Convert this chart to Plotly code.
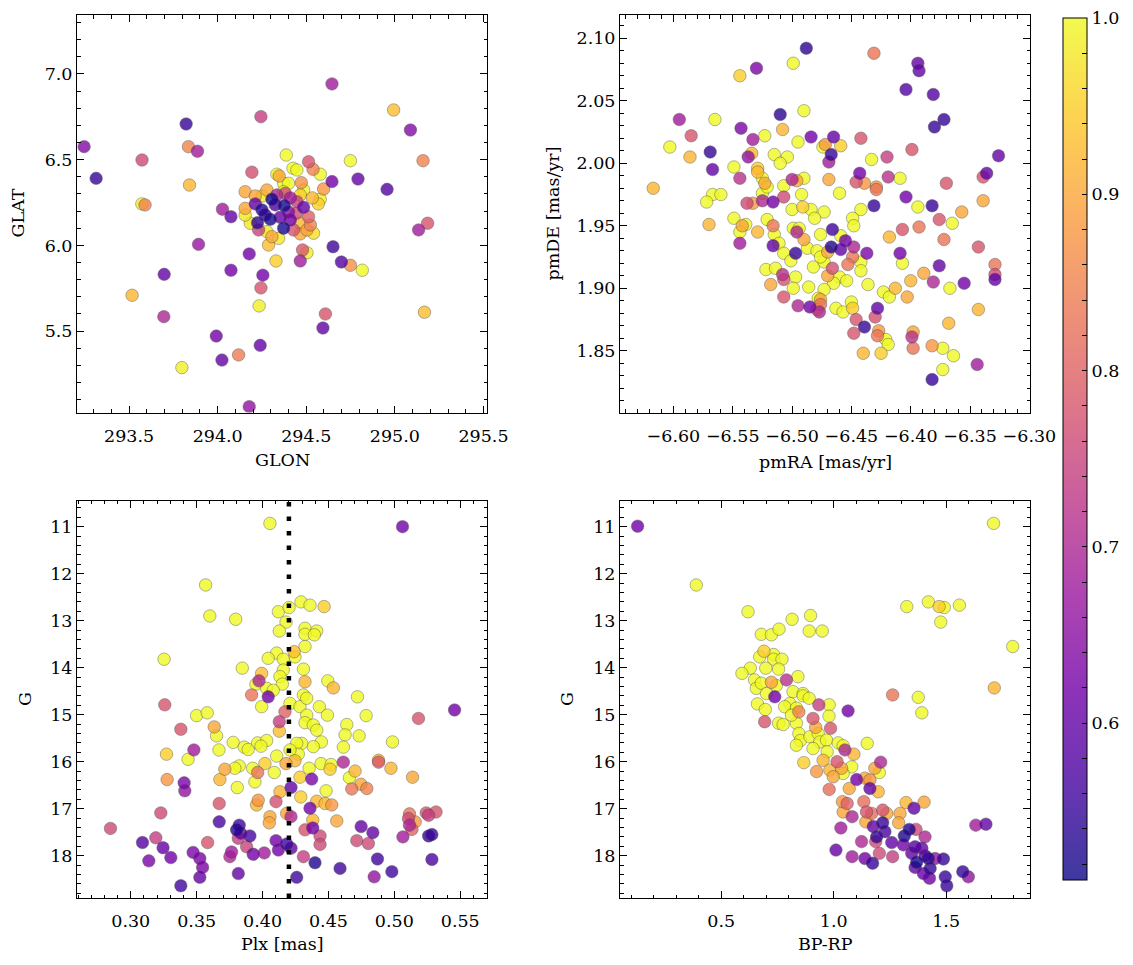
import numpy as np
import plotly.graph_objects as go
import plotly.colors as pc

# ---------------- data ----------------
tl_glon = [294.645, 294.993, 295.088, 294.244, 293.822, 293.246, 293.835, 293.886, 293.573, 293.314,
           293.841, 294.193, 294.749, 294.792, 294.956, 295.159, 294.645, 294.598, 294.579, 293.572,
           293.590, 294.027, 294.075, 294.178, 294.075, 294.255, 294.244, 294.234, 293.892, 293.698,
           293.517, 293.696, 293.992, 294.024, 294.118, 294.240, 293.798, 294.178, 294.608, 294.594,
           294.479, 294.504, 294.466, 294.651, 294.698, 294.749, 294.816, 295.134, 295.185, 295.167,
           294.287, 294.329,
           294.387, 294.513, 294.538, 294.425, 294.447, 294.579, 294.334, 294.347, 294.472, 294.485,
           294.155, 294.372, 294.400, 294.372, 294.278, 294.306, 294.376, 294.250, 294.297, 294.372,
           294.353, 294.410, 294.225, 294.212, 294.334, 294.381, 294.447, 294.485, 294.513, 294.444,
           294.428, 294.466, 294.504, 294.541, 294.278, 294.306, 294.344, 294.184, 294.155, 294.231,
           294.466, 294.251, 294.212, 294.410, 294.466, 294.534, 294.325, 294.268, 294.400, 294.155,
           294.523, 294.568]
tl_glat = [6.942, 6.790, 6.673, 6.751, 6.708, 6.576, 6.576, 6.549, 6.498, 6.391,
           6.352, 6.427, 6.494, 6.387, 6.327, 6.494, 6.372, 6.329, 6.269, 6.242,
           6.236, 6.211, 6.167, 5.950, 5.855, 5.826, 5.752, 5.647, 6.006, 5.831,
           5.709, 5.584, 5.471, 5.331, 5.361, 5.417, 5.287, 5.059, 5.600, 5.518,
           5.973, 5.957, 5.909, 5.992, 5.903, 5.884, 5.855, 6.090, 6.129, 5.610,
           6.002, 5.909,
           6.527, 6.488, 6.444, 6.450, 6.440, 6.415, 6.415, 6.405, 6.366, 6.323,
           6.313, 6.362, 6.362, 6.313, 6.323, 6.269, 6.232, 6.207, 6.152, 6.100,
           6.164, 6.148, 6.132, 6.242, 6.294, 6.304, 6.255, 6.222, 6.167, 6.187,
           6.090, 6.067, 6.090, 6.071, 6.080, 6.051, 6.041, 6.129, 6.216, 6.090,
           6.129, 6.288, 6.288, 6.277, 6.294, 6.277, 6.236, 6.177, 6.195, 6.177,
           6.119, 6.242]
tl_prob = [0.68, 0.93, 0.64, 0.74, 0.55, 0.64, 0.85, 0.68, 0.76, 0.55,
           0.92, 0.77, 1.00, 0.60, 0.58, 0.85, 0.62, 0.88, 0.99, 0.99,
           0.85, 0.68, 0.60, 0.62, 0.62, 0.62, 0.78, 0.99, 0.67, 0.60,
           0.92, 0.70, 0.62, 0.60, 0.84, 0.60, 0.99, 0.66, 0.78, 0.60,
           0.78, 0.99, 0.68, 0.56, 0.58, 0.87, 1.00, 0.68, 0.78, 0.93,
           0.93, 0.95,
           1.00, 0.78, 0.85, 1.00, 1.00, 1.00, 1.00, 0.90, 0.87, 1.00,
           0.90, 1.00, 1.00, 1.00, 0.90, 0.52, 0.52, 0.53, 0.52, 0.52,
           0.60, 0.62, 0.54, 0.60, 0.70, 0.76, 0.74, 0.60, 0.80, 0.76,
           0.78, 0.90, 0.90, 0.97, 0.98, 0.90, 0.98, 0.98, 0.90, 0.75,
           0.92, 0.98, 0.90, 0.68, 0.95, 0.92, 0.58, 0.56, 0.65, 0.98,
           0.85, 0.95]

tr_pmra = [-6.488, -6.431, -6.394, -6.393, -6.499, -6.530, -6.544, -6.404, -6.381, -6.372,
           -6.380, -6.595, -6.565, -6.585, -6.603, -6.586, -6.617, -6.510, -6.490, -6.508,
           -6.543, -6.533, -6.523, -6.569, -6.567, -6.495, -6.484, -6.465, -6.472, -6.474,
           -6.459, -6.467, -6.469, -6.442, -6.399, -6.420, -6.433, -6.326, -6.534, -6.537,
           -6.515, -6.504, -6.510, -6.549, -6.529, -6.529, -6.525, -6.523, -6.544, -6.490,
           -6.500, -6.496, -6.507, -6.469, -6.443, -6.446, -6.439, -6.429, -6.429, -6.419,
           -6.409, -6.370, -6.339, -6.336, -6.339, -6.382, -6.404, -6.394, -6.431, -6.460,
           -6.492, -6.525, -6.521, -6.567, -6.560, -6.572, -6.538, -6.525, -6.516, -6.507,
           -6.533, -6.491, -6.500, -6.473, -6.442, -6.357,
           -6.570, -6.549, -6.542, -6.539, -6.544, -6.529, -6.544, -6.521, -6.516, -6.515,
           -6.511, -6.516, -6.484, -6.481, -6.499, -6.494, -6.496, -6.490, -6.487, -6.497,
           -6.507, -6.501, -6.476, -6.466, -6.459, -6.455, -6.467, -6.459, -6.448, -6.437,
           -6.470, -6.479, -6.449, -6.448, -6.449, -6.453, -6.442, -6.442, -6.466, -6.470,
           -6.460, -6.454, -6.465, -6.482, -6.473, -6.476, -6.522, -6.514, -6.508, -6.507,
           -6.497, -6.499, -6.518, -6.486, -6.473, -6.507, -6.495, -6.485, -6.478, -6.476,
           -6.476, -6.477, -6.479, -6.463, -6.457, -6.450, -6.449, -6.436, -6.428, -6.430,
           -6.446, -6.439, -6.448, -6.427, -6.428, -6.421, -6.419, -6.440, -6.425, -6.423,
           -6.418, -6.413, -6.418, -6.407, -6.393, -6.409, -6.407, -6.400, -6.403, -6.389,
           -6.376, -6.372, -6.365, -6.376, -6.381, -6.367, -6.355, -6.343, -6.329, -6.329,
           -6.329, -6.343, -6.368, -6.398, -6.399, -6.398, -6.382, -6.373, -6.364, -6.373,
           -6.382, -6.344]
tr_pmde = [2.092, 2.088, 2.080, 2.074, 2.080, 2.076, 2.070, 2.059, 2.055, 2.035,
           2.029, 2.035, 2.035, 2.022, 2.013, 2.005, 1.980, 2.039, 2.042, 2.027,
           2.028, 2.019, 2.022, 2.009, 1.995, 2.017, 2.021, 2.021, 2.015, 2.013,
           2.014, 2.007, 2.001, 2.020, 2.011, 2.005, 2.003, 2.006, 2.008, 2.005,
           2.007, 2.005, 2.000, 1.997, 1.996, 1.993, 1.988, 1.984, 1.988, 1.988,
           1.987, 1.986, 1.982, 1.987, 1.992, 1.985, 1.984, 1.981, 1.979, 1.989,
           1.988, 1.984, 1.989, 1.992, 1.970, 1.966, 1.973, 1.965, 1.966, 1.976,
           1.975, 1.976, 1.981, 1.975, 1.975, 1.969, 1.968, 1.970, 1.969, 1.973,
           1.968, 1.965, 1.963, 1.961, 1.963, 1.961,
           1.951, 1.956, 1.950, 1.951, 1.945, 1.945, 1.936, 1.955, 1.950, 1.943,
           1.936, 1.934, 1.963, 1.956, 1.948, 1.948, 1.945, 1.939, 1.932, 1.928,
           1.928, 1.922, 1.943, 1.947, 1.942, 1.938, 1.933, 1.931, 1.933, 1.928,
           1.929, 1.930, 1.956, 1.950, 1.925, 1.919, 1.921, 1.914, 1.916, 1.910,
           1.909, 1.906, 1.904, 1.917, 1.921, 1.925, 1.915, 1.916, 1.911, 1.907,
           1.909, 1.900, 1.903, 1.901, 1.899, 1.893, 1.886, 1.885, 1.892, 1.891,
           1.887, 1.881, 1.883, 1.884, 1.881, 1.889, 1.884, 1.903, 1.884, 1.877,
           1.875, 1.869, 1.864, 1.866, 1.862, 1.859, 1.855, 1.848, 1.848, 1.897,
           1.893, 1.900, 1.941, 1.947, 1.949, 1.928, 1.920, 1.906, 1.893, 1.912,
           1.955, 1.939, 1.952, 1.918, 1.905, 1.900, 1.904, 1.933, 1.919, 1.911,
           1.907, 1.883, 1.872, 1.865, 1.861, 1.852, 1.854, 1.852, 1.846, 1.835,
           1.827, 1.839]
tr_prob = [0.54, 0.83, 0.60, 0.60, 1.00, 0.63, 0.95, 0.58, 0.58, 0.55,
           0.55, 0.68, 1.00, 0.78, 1.00, 0.92, 0.92, 0.54, 1.00, 0.92,
           0.63, 0.68, 1.00, 0.55, 0.60, 1.00, 0.62, 0.60, 0.88, 1.00,
           0.95, 0.55, 0.68, 0.78, 0.78, 0.74, 1.00, 0.60, 0.92, 0.66,
           1.00, 1.00, 1.00, 1.00, 0.95, 0.92, 1.00, 0.90, 0.72, 1.00,
           0.70, 0.90, 1.00, 0.90, 0.62, 0.78, 0.88, 0.88, 0.83, 0.72,
           1.00, 0.78, 0.78, 0.60, 0.90, 0.55, 0.62, 1.00, 0.55, 1.00,
           1.00, 1.00, 1.00, 1.00, 1.00, 1.00, 0.76, 0.70, 0.62, 0.76,
           0.88, 0.95, 1.00, 1.00, 1.00, 0.90,
           0.92, 1.00, 0.90, 1.00, 1.00, 0.92, 0.68, 1.00, 0.83, 1.00,
           1.00, 0.60, 1.00, 1.00, 1.00, 1.00, 0.70, 0.90, 1.00, 0.55,
           1.00, 1.00, 1.00, 0.56, 1.00, 0.62, 0.53, 0.60, 0.70, 0.63,
           0.90, 1.00, 1.00, 1.00, 0.83, 0.83, 1.00, 1.00, 0.77, 0.90,
           1.00, 1.00, 1.00, 1.00, 1.00, 1.00, 1.00, 1.00, 0.72, 0.78,
           1.00, 1.00, 0.90, 1.00, 1.00, 0.78, 0.70, 0.62, 1.00, 0.90,
           0.83, 0.70, 0.90, 1.00, 1.00, 1.00, 0.95, 1.00, 0.60, 0.77,
           0.78, 0.55, 0.78, 0.88, 0.83, 1.00, 1.00, 0.92, 0.95, 1.00,
           1.00, 0.92, 0.92, 0.78, 0.83, 0.62, 1.00, 0.92, 0.90, 0.90,
           0.78, 0.83, 1.00, 0.60, 0.70, 1.00, 0.62, 0.78, 0.83, 0.76,
           0.60, 0.92, 0.92, 0.90, 0.72, 0.83, 0.88, 1.00, 1.00, 1.00,
           0.55, 0.68]

bl_plx = [0.4056, 0.5062, 0.3568, 0.3600, 0.3796, 0.3253, 0.4292, 0.4360, 0.4467, 0.4120,
          0.4201, 0.4178, 0.4127, 0.4322, 0.4322, 0.4411, 0.4393, 0.4322, 0.4239, 0.4246,
          0.4107, 0.4043, 0.4157, 0.3846, 0.4310, 0.3993, 0.4157, 0.4132, 0.4150, 0.3973,
          0.3950, 0.4322, 0.4495, 0.4537, 0.3917, 0.4043, 0.4031, 0.4081, 0.4720, 0.4310,
          0.3258, 0.3993, 0.4208, 0.4284, 0.4335, 0.4431, 0.4492, 0.4786, 0.5183, 0.5457,
          0.3499, 0.3580, 0.3380, 0.3633, 0.3651, 0.4170, 0.4127, 0.4127, 0.4335, 0.4322,
          0.4385, 0.4411, 0.4639, 0.4626, 0.4733, 0.4986, 0.4446, 0.4385, 0.4297, 0.4259,
          0.4271, 0.3777, 0.3861, 0.3891, 0.3963, 0.4031, 0.3988, 0.4107, 0.4208, 0.4613,
          0.3271, 0.3479, 0.3435, 0.3669, 0.4246, 0.4178, 0.4018, 0.3823, 0.3790, 0.3714,
          0.3925, 0.3963, 0.4089, 0.4353, 0.4444, 0.4520, 0.4512, 0.4613, 0.4702, 0.4659,
          0.4880, 0.4880, 0.4974, 0.5138, 0.3276, 0.3405, 0.3410, 0.3676, 0.3808, 0.3942,
          0.4373, 0.4284, 0.4290, 0.4216, 0.4482, 0.4677, 0.4746, 0.4791, 0.4132, 0.4102,
          0.3967, 0.3955, 0.3671, 0.3228, 0.2846, 0.4360, 0.4411, 0.4474, 0.4525, 0.4563,
          0.4183, 0.4216, 0.4056, 0.4051, 0.4381, 0.4322, 0.4381, 0.4436, 0.4436, 0.3671,
          0.3823, 0.3803, 0.3834, 0.3904, 0.3816, 0.3879, 0.4102, 0.4183, 0.4216, 0.4120,
          0.4013, 0.3929, 0.3765, 0.3752, 0.3583, 0.3473, 0.3524, 0.3545, 0.3524, 0.3190,
          0.3089, 0.3245, 0.3304, 0.3137, 0.3380, 0.3816, 0.4259, 0.4398, 0.4310, 0.4588,
          0.4715, 0.4748, 0.4803, 0.4837, 0.4872, 0.4847, 0.4981, 0.5065, 0.5115, 0.5107,
          0.5158, 0.5115, 0.5133, 0.5242, 0.5316, 0.5260, 0.5260, 0.5285, 0.5285]
bl_g = [10.93, 11.00, 12.24, 12.90, 12.97, 13.82, 12.60, 12.67, 12.70, 12.81,
        12.72, 13.03, 13.22, 13.16, 13.29, 13.22, 13.30, 13.55, 13.66, 13.77,
        13.69, 13.80, 13.82, 14.01, 14.03, 14.12, 14.05, 14.19, 14.35, 14.28,
        14.35, 14.30, 14.28, 14.43, 14.58, 14.62, 14.44, 14.48, 14.62, 14.58,
        14.79, 14.83, 14.76, 14.83, 14.65, 14.83, 15.01, 15.02, 15.08, 14.90,
        15.02, 14.96, 15.31, 15.26, 15.45, 14.94, 15.15, 15.35, 15.01, 15.17,
        15.22, 15.33, 15.21, 15.43, 15.45, 15.58, 15.58, 15.68, 15.61, 15.61,
        15.84, 15.59, 15.69, 15.74, 15.60, 15.55, 15.67, 15.88, 15.75, 15.69,
        15.84, 15.75, 15.95, 15.75, 15.98, 16.04, 16.04, 16.09, 16.14, 16.16,
        16.14, 16.23, 16.23, 16.14, 16.04, 16.06, 16.16, 16.01, 16.20, 16.34,
        15.97, 16.01, 16.14, 16.33, 16.38, 16.45, 16.62, 16.38, 16.55, 16.43,
        16.37, 16.33, 16.75, 16.55, 16.62, 16.58, 16.48, 16.57, 16.64, 16.85,
        16.82, 16.92, 16.89, 17.09, 17.42, 16.99, 16.84, 16.89, 16.92, 17.26,
        17.10, 17.17, 17.17, 17.30, 17.24, 17.45, 17.41, 17.58, 17.76, 17.28,
        17.35, 17.45, 17.52, 17.58, 17.63, 17.81, 17.68, 17.75, 17.84, 17.88,
        17.94, 17.97, 17.92, 18.02, 17.72, 17.93, 18.06, 18.25, 18.46, 17.62,
        17.72, 17.83, 18.04, 18.11, 18.64, 18.38, 18.46, 18.15, 18.02, 18.27,
        17.68, 17.38, 17.74, 17.51, 18.07, 18.45, 18.34, 17.60, 17.11, 17.21,
        17.28, 17.35, 17.44, 17.09, 17.07, 17.14, 17.58, 17.55, 18.08]
bl_prob = [1.00, 0.62, 1.00, 1.00, 1.00, 1.00, 1.00, 1.00, 0.95, 1.00,
           1.00, 1.00, 1.00, 1.00, 1.00, 1.00, 1.00, 1.00, 0.93, 1.00,
           1.00, 1.00, 1.00, 1.00, 1.00, 0.93, 1.00, 1.00, 1.00, 0.70,
           1.00, 0.92, 1.00, 0.92, 0.83, 0.62, 1.00, 1.00, 1.00, 1.00,
           0.78, 1.00, 1.00, 1.00, 1.00, 1.00, 1.00, 1.00, 0.78, 0.62,
           1.00, 1.00, 0.78, 0.90, 1.00, 0.80, 0.74, 0.93, 1.00, 1.00,
           1.00, 1.00, 1.00, 1.00, 1.00, 1.00, 1.00, 1.00, 1.00, 1.00,
           1.00, 1.00, 1.00, 1.00, 1.00, 1.00, 1.00, 1.00, 1.00, 1.00,
           0.95, 0.68, 1.00, 1.00, 0.92, 0.90, 0.95, 1.00, 1.00, 0.90,
           1.00, 0.83, 1.00, 1.00, 1.00, 1.00, 0.95, 0.70, 0.92, 1.00,
           0.93, 0.78, 0.92, 0.90, 0.88, 0.63, 0.66, 0.92, 1.00, 1.00,
           0.63, 0.95, 0.95, 0.60, 1.00, 0.83, 0.90, 0.85, 0.92, 0.77,
           0.88, 0.92, 0.78, 0.76, 0.76, 0.62, 0.92, 0.92, 0.88, 0.90,
           0.90, 0.70, 0.90, 0.90, 0.92, 0.78, 0.62, 0.76, 0.76, 0.57,
           0.56, 0.53, 0.60, 0.57, 0.74, 0.75, 0.62, 0.56, 0.60, 0.62,
           0.68, 0.62, 0.68, 0.70, 0.78, 0.63, 0.63, 0.63, 0.60, 0.74,
           0.58, 0.60, 0.62, 0.63, 0.56, 0.60, 0.56, 0.53, 0.74, 0.56,
           0.76, 0.60, 0.76, 0.60, 0.56, 0.66, 0.56, 0.68, 0.83, 0.76,
           0.88, 0.70, 0.80, 0.78, 0.78, 0.74, 0.55, 0.55, 0.57]

br_bprp = [0.128, 1.711, 0.389, 0.619, 0.815, 0.897, 0.678, 0.723, 0.757, 0.891,
           0.949, 1.325, 1.421, 1.469, 1.492, 1.559, 1.476, 1.796, 1.714, 0.690,
           0.671, 0.733, 0.733, 0.770, 0.629, 0.592, 0.698, 0.755, 0.648, 0.656,
           0.678, 0.723, 0.790, 0.841, 0.745, 0.819, 0.864, 0.738, 1.262, 1.376,
           1.392, 0.701, 0.661, 0.696, 0.693, 0.755, 0.775, 0.805, 0.782, 0.834,
           0.864, 0.891, 0.845, 0.934, 0.980, 0.979, 1.064, 0.834, 0.812, 0.908,
           0.920, 0.986, 0.845, 0.852, 0.834, 0.894, 0.931, 0.938, 0.968, 0.908,
           0.971, 1.020, 1.042, 1.050, 1.090, 1.149, 0.867, 0.924, 0.953, 1.015,
           1.035, 0.983, 1.080, 1.042, 1.209, 1.183, 1.203, 0.998, 0.980, 1.102,
           1.139, 1.161, 1.069, 1.161, 1.198, 1.039, 1.060, 1.134, 1.042, 1.082,
           1.146, 1.169, 1.218, 1.236, 1.143, 1.176, 1.218, 1.191, 1.228, 1.295,
           1.322, 1.402, 1.289, 1.357, 1.032, 1.124, 1.187, 1.258, 1.314, 1.336,
           1.366, 1.406, 1.362, 1.392, 1.310, 1.010, 1.082, 1.139, 1.173, 1.203,
           1.262, 1.347, 1.369, 1.421, 1.429, 1.362, 1.399, 1.426, 1.451, 1.488,
           1.496, 1.503, 1.574, 1.599, 1.632, 1.677, 1.406]
br_g = [10.99, 10.93, 12.24, 12.81, 12.97, 12.89, 13.29, 13.30, 13.18, 13.22,
        13.22, 12.70, 12.60, 12.70, 12.72, 12.67, 13.03, 13.55, 14.43, 13.65,
        13.77, 13.72, 13.82, 13.82, 14.01, 14.12, 14.01, 14.03, 14.26, 14.44,
        14.33, 14.31, 14.26, 14.19, 14.38, 14.51, 14.55, 14.62, 14.58, 14.63,
        14.96, 14.55, 14.77, 14.89, 15.15, 15.18, 15.21, 14.76, 14.83, 14.86,
        14.60, 14.65, 14.94, 14.79, 14.79, 15.03, 14.92, 15.18, 15.01, 15.08,
        15.27, 15.29, 15.40, 15.55, 15.65, 15.47, 15.40, 15.58, 15.54, 15.72,
        15.79, 15.60, 15.66, 15.75, 15.84, 15.61, 16.02, 16.21, 15.97, 16.00,
        16.14, 16.18, 16.11, 16.25, 16.01, 16.14, 16.23, 16.32, 16.59, 16.38,
        16.35, 16.39, 16.57, 16.57, 16.64, 16.85, 16.89, 16.85, 17.07, 17.17,
        17.07, 17.10, 17.03, 17.10, 17.28, 17.38, 17.30, 17.60, 17.49, 17.10,
        16.87, 16.86, 17.30, 16.99, 17.41, 17.70, 17.70, 17.72, 17.58, 17.44,
        17.44, 17.60, 17.81, 17.84, 17.77, 17.88, 18.02, 18.06, 18.16, 17.95,
        18.02, 17.95, 18.14, 18.06, 18.27, 18.25, 18.38, 18.48, 18.06, 18.07,
        18.45, 18.64, 18.34, 18.45, 17.35, 17.33, 18.00]
br_prob = [0.62, 1.00, 1.00, 1.00, 1.00, 1.00, 1.00, 1.00, 1.00, 1.00,
           1.00, 1.00, 1.00, 0.95, 1.00, 1.00, 1.00, 1.00, 0.92, 0.95,
           1.00, 1.00, 1.00, 1.00, 1.00, 1.00, 1.00, 1.00, 1.00, 1.00,
           1.00, 0.90, 0.72, 1.00, 1.00, 1.00, 1.00, 0.62, 0.83, 1.00,
           1.00, 1.00, 1.00, 1.00, 0.78, 1.00, 1.00, 1.00, 1.00, 1.00,
           1.00, 1.00, 0.85, 0.74, 1.00, 1.00, 0.62, 1.00, 1.00, 0.78,
           0.90, 0.78, 1.00, 1.00, 1.00, 1.00, 1.00, 1.00, 1.00, 1.00,
           1.00, 1.00, 1.00, 0.70, 0.92, 1.00, 0.95, 0.88, 0.92, 0.78,
           0.90, 0.92, 1.00, 1.00, 0.70, 0.90, 1.00, 0.90, 0.82, 0.62,
           0.90, 0.88, 0.90, 0.60, 0.92, 0.88, 0.80, 0.82, 0.90, 0.70,
           0.78, 0.82, 0.78, 0.90, 0.90, 0.60, 0.55, 0.55, 0.57, 0.90,
           0.92, 0.90, 0.90, 0.60, 0.68, 0.70, 0.76, 0.60, 0.53, 0.53,
           0.76, 0.70, 0.58, 0.60, 0.62, 0.60, 0.68, 0.62, 0.55, 0.76,
           0.74, 0.60, 0.52, 0.54, 0.55, 0.60, 0.60, 0.62, 0.66, 0.55,
           0.55, 0.55, 0.55, 0.66, 0.68, 0.60, 0.60]

plx_ref = 0.42
prob_min, prob_max = 0.511, 1.0

# ---------------- styling ----------------
FONT = "DejaVu Serif"
FS = 17.5
plasma = pc.sequential.Plasma
cscale = [[i / (len(plasma) - 1), c] for i, c in enumerate(plasma)]


def blend(hexc, a=0.8):
    r, g, b = pc.hex_to_rgb(hexc)
    return "rgb(%d,%d,%d)" % (r * a + 255 * (1 - a), g * a + 255 * (1 - a), b * a + 255 * (1 - a))


cscale_bar = [[i / (len(plasma) - 1), blend(c)] for i, c in enumerate(plasma)]

# page offset of the figure (default body margin) and figure size
OFF = 8
W, H = 1125, 957


def fx(px):
    return (px - OFF) / W


def fy(py):
    return 1 - (py - OFF) / H


xl = [fx(77), fx(487)]
xr = [fx(620), fx(1030)]
yt = [fy(412.5), fy(15)]
yb = [fy(898), fy(500.5)]

fig = go.Figure()


def add_panel(x, y, p, xa, ya):
    x = np.asarray(x); y = np.asarray(y); p = np.asarray(p)
    n = min(len(x), len(y), len(p))
    x, y, p = x[:n], y[:n], p[:n]
    order = np.argsort(-p, kind="stable")
    fig.add_trace(go.Scatter(
        x=x[order], y=y[order], mode="markers", xaxis=xa, yaxis=ya,
        marker=dict(size=12.5, color=p[order], colorscale=cscale, cmin=prob_min, cmax=prob_max,
                    opacity=0.8, line=dict(width=0.6, color="rgba(60,60,60,0.8)")),
        showlegend=False, hoverinfo="skip"))


add_panel(tl_glon, tl_glat, tl_prob, "x", "y")
add_panel(tr_pmra, tr_pmde, tr_prob, "x2", "y2")
add_panel(bl_plx, bl_g, bl_prob, "x3", "y3")
add_panel(br_bprp, br_g, br_prob, "x4", "y4")

cb_vals = [round(0.52 + 0.02 * i, 2) for i in range(25)]
cb_text = [("%.1f" % v if abs(v * 10 - round(v * 10)) < 1e-6 else "") for v in cb_vals]

# colorbar carrier
fig.add_trace(go.Scatter(
    x=[None], y=[None], mode="markers", xaxis="x4", yaxis="y4",
    marker=dict(color=[prob_min], colorscale=cscale_bar, cmin=prob_min, cmax=prob_max, showscale=True,
                colorbar=dict(x=fx(1063), xanchor="left", y=fy(18), yanchor="top",
                              xpad=0, ypad=0,
                              len=862, lenmode="pixels", thickness=24, thicknessmode="pixels",
                              outlinewidth=1, outlinecolor="black",
                              tickvals=cb_vals, ticktext=cb_text, ticklabeloverflow="allow",
                              ticks="inside", ticklen=5, tickcolor="black", tickwidth=1,
                              tickfont=dict(family=FONT, size=FS, color="black"))),
    showlegend=False, hoverinfo="skip"))


def axis(domain, rng, dtick, mdtick, fmt, anchor, tick0=None, standoff=0):
    d = dict(domain=domain, range=rng, anchor=anchor, dtick=dtick, tickformat=fmt,
             showline=True, linecolor="black", linewidth=1, mirror="allticks",
             ticks="inside", ticklen=7, tickwidth=1, tickcolor="black",
             minor=dict(ticks="inside", ticklen=3.5, dtick=mdtick, tickcolor="black", tickwidth=1),
             showgrid=False, zeroline=False, automargin=False,
             ticklabelstandoff=standoff, ticklabeloverflow="allow",
             tickfont=dict(family=FONT, size=FS, color="black"))
    if tick0 is not None:
        d["tick0"] = tick0
    return d


fig.update_layout(
    width=W, height=H, margin=dict(l=0, r=0, t=0, b=0),
    paper_bgcolor="white", plot_bgcolor="white",
    font=dict(family=FONT, size=FS, color="black"),
    xaxis=axis(xl, [293.206, 295.52], 0.5, 0.1, ".1f", "y", 293.5, 7),
    yaxis=axis(yt, [5.025, 7.344], 0.5, 0.1, ".1f", "x", 5.0),
    xaxis2=axis(xr, [-6.645, -6.2995], 0.05, 0.01, ".2f", "y2", -6.6, 7),
    yaxis2=axis(yt, [1.8006, 2.1186], 0.05, 0.01, ".2f", "x2", 1.8),
    xaxis3=axis(xl, [0.2592, 0.5703], 0.05, 0.01, ".2f", "y3", 0.3, 7),
    yaxis3=axis(yb, [18.90, 10.443], 1, 0.2, "d", "x3", 11),
    xaxis4=axis(xr, [0.0497, 1.873], 0.5, 0.1, ".1f", "y4", 0.5, 7),
    yaxis4=axis(yb, [18.90, 10.443], 1, 0.2, "d", "x4", 11),
)

# reference parallax line
fig.add_shape(type="line", xref="x3", yref="y3 domain", x0=plx_ref, x1=plx_ref, y0=0, y1=1,
              line=dict(color="black", width=4.5, dash="4.5px,10px"), layer="above")

titles = [
    ("GLON", 282, 460, 0), ("GLAT", 18, 213.5, -90),
    ("pmRA [mas/yr]", 825, 462, 0), ("pmDE [mas/yr]", 553, 213.5, -90),
    ("Plx [mas]", 282, 944, 0), ("G", 25, 699, -90),
    ("BP-RP", 825, 944, 0), ("G", 567, 699, -90),
]
for txt, px, py, ang in titles:
    fig.add_annotation(text=txt, x=fx(px), y=fy(py), xref="paper", yref="paper",
                       xanchor="center", yanchor="middle", showarrow=False, textangle=ang,
                       font=dict(family=FONT, size=FS, color="black"))

fig.write_html("out.html")
